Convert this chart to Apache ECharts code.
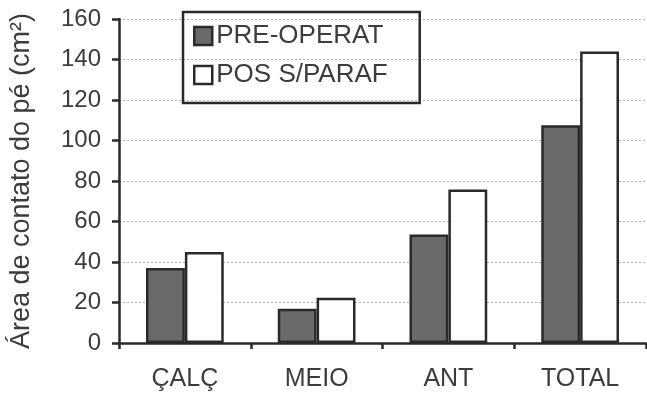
<!DOCTYPE html>
<html>
<head>
<meta charset="utf-8">
<script src="https://cdn.jsdelivr.net/npm/echarts@6/dist/echarts.min.js"></script>
<style>
html,body{margin:0;padding:0;background:#fff;}
#chart{width:647px;height:400px;}
</style>
</head>
<body>
<div id="chart"></div>
<script>
const categories = ['ÇALÇ', 'MEIO', 'ANT', 'TOTAL'];
const preOperat = [37.0, 16.9, 53.6, 107.5];
const posSParaf = [45.0, 22.4, 75.8, 144.0];
const seriesNames = ['PRE-OPERAT', 'POS S/PARAF'];
const yTicks = [0, 20, 40, 60, 80, 100, 120, 140, 160];
const yAxisTitle = 'Área de contato do pé (cm²)';

const FONT = '"Liberation Sans", Arial, sans-serif';
const TXT = '#3c3c3c';
const LINE = '#2a2a2a';

const chart = echarts.init(document.getElementById('chart'), null, {renderer: 'canvas'});
chart.setOption({
  animation: false,
  backgroundColor: '#fff',
  textStyle: {fontFamily: FONT},
  grid: {left: 117, right: 1, top: 19, bottom: 57, containLabel: false},
  legend: {
    data: seriesNames,
    orient: 'vertical',
    left: 183,
    top: 12,
    padding: [11, 32, 15, 10],
    itemGap: 13,
    itemWidth: 18,
    itemHeight: 18,
    icon: 'rect',
    borderColor: LINE,
    borderWidth: 2.5,
    backgroundColor: 'transparent',
    itemStyle: {borderColor: LINE, borderWidth: 2.5},
    textStyle: {fontFamily: FONT, fontSize: 26, color: TXT, padding: [0, 0, 0, -1]}
  },
  xAxis: {
    type: 'category',
    data: categories,
    axisLine: {show: true, lineStyle: {color: LINE, width: 2.5}},
    axisTick: {show: true, length: 6, lineStyle: {color: LINE, width: 2.5}},
    axisLabel: {fontFamily: FONT, fontSize: 25, color: TXT, margin: 24}
  },
  yAxis: {
    type: 'value',
    min: yTicks[0],
    max: yTicks[yTicks.length - 1],
    interval: yTicks[1] - yTicks[0],
    name: yAxisTitle,
    nameLocation: 'middle',
    nameGap: 84,
    nameTextStyle: {fontFamily: FONT, fontSize: 27, color: TXT},
    axisLine: {show: true, lineStyle: {color: LINE, width: 2.5}},
    axisTick: {show: true, length: 7, lineStyle: {color: LINE, width: 2.5}},
    axisLabel: {fontFamily: FONT, fontSize: 24, color: TXT, margin: 18},
    splitLine: {show: true, lineStyle: {color: '#b0b0b0', width: 1, type: [2, 2]}}
  },
  series: [
    {
      name: seriesNames[0],
      type: 'bar',
      data: preOperat,
      barGap: '0%',
      barCategoryGap: '41%',
      itemStyle: {color: '#6a6a6a', borderColor: LINE, borderWidth: 2.5}
    },
    {
      name: seriesNames[1],
      type: 'bar',
      data: posSParaf,
      barGap: '0%',
      barCategoryGap: '41%',
      itemStyle: {color: '#ffffff', borderColor: LINE, borderWidth: 2.5}
    }
  ]
});
</script>
</body>
</html>
